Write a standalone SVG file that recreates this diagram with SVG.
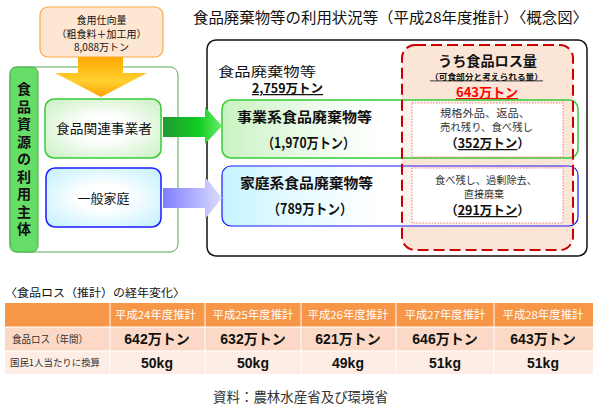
<svg xmlns="http://www.w3.org/2000/svg" width="600" height="412" viewBox="0 0 600 412">
<defs>
<linearGradient id="gDown" x1="0" y1="0" x2="0" y2="1">
<stop offset="0" stop-color="#ffa800"/><stop offset="0.6" stop-color="#ffd030"/><stop offset="1" stop-color="#ffa000"/>
</linearGradient>
<linearGradient id="gGreenArrow" x1="0" y1="0" x2="1" y2="0">
<stop offset="0" stop-color="#229933"/><stop offset="0.6" stop-color="#11cc22"/><stop offset="1" stop-color="#66ee66"/>
</linearGradient>
<linearGradient id="gBlueArrow" x1="0" y1="0" x2="1" y2="0">
<stop offset="0" stop-color="#7f7fff"/><stop offset="1" stop-color="#dcdcff"/>
</linearGradient>
<radialGradient id="gGreenBox" cx="0.5" cy="0.5" r="0.7">
<stop offset="0.3" stop-color="#ffffff"/><stop offset="1" stop-color="#c8f0c0"/>
</radialGradient>
<radialGradient id="gBlueBox" cx="0.5" cy="0.5" r="0.7">
<stop offset="0.3" stop-color="#ffffff"/><stop offset="1" stop-color="#bff0ff"/>
</radialGradient>
<linearGradient id="gBiz" x1="0" y1="0" x2="1" y2="0">
<stop offset="0" stop-color="#c8f2c0" stop-opacity="1"/><stop offset="0.45" stop-color="#ffffff" stop-opacity="0.6"/><stop offset="1" stop-color="#ffffff" stop-opacity="0"/>
</linearGradient>
<linearGradient id="gHome" x1="0" y1="0" x2="1" y2="0">
<stop offset="0" stop-color="#c4f4ff" stop-opacity="1"/><stop offset="0.45" stop-color="#ffffff" stop-opacity="0.6"/><stop offset="1" stop-color="#ffffff" stop-opacity="0"/>
</linearGradient>
</defs>
<style>
text{font-family:"Noto Sans CJK JP","Liberation Sans",sans-serif;fill:#111}
.b{font-weight:bold}
.c{text-anchor:middle}
.gray{fill:#333}
.inner{fill:#fff;stroke:#f08080;stroke-width:1;stroke-dasharray:1.5,1.5}
.num{font-family:"Liberation Sans","Noto Sans CJK JP",sans-serif;font-weight:bold;font-size:14px;text-anchor:middle}
.hdr{fill:#fff;font-size:11px;text-anchor:middle}
</style>
<rect width="600" height="412" fill="#fff"/>

<text x="390.5" y="23" font-size="15" class="c" textLength="395" lengthAdjust="spacingAndGlyphs">食品廃棄物等の利用状況等（平成28年度推計）〈概念図〉</text>

<g id="frame-left">
<rect x="10" y="67" width="168" height="185" rx="8" fill="#fff" stroke="#55aa55" stroke-width="1"/>
</g>
<g id="node-supply">
<rect x="40" y="7" width="123" height="50" rx="8" fill="#fde6d2" stroke="#f8a848" stroke-width="1.2"/>
<text x="101.5" y="24" font-size="10" class="c">食用仕向量</text>
<text x="101.5" y="37.5" font-size="10" class="c">（粗食料＋加工用）</text>
<text x="101.5" y="51" font-size="10" class="c">8,088万トン</text>
</g>
<g id="label-bar">
<rect x="10" y="67" width="28" height="185" rx="6" fill="#66dd66" stroke="#44aa44" stroke-width="1"/>
<text x="24" y="82" font-size="14" class="b" writing-mode="vertical-rl" letter-spacing="3.5">食品資源の利用主体</text>
</g>
<g id="node-business-user">
<rect x="45" y="99" width="116" height="59" rx="9" fill="url(#gGreenBox)" stroke="#33cc33" stroke-width="1.5"/>
<text x="104" y="133" font-size="13" class="c" textLength="96" lengthAdjust="spacingAndGlyphs">食品関連事業者</text>
</g>
<g id="node-household-user">
<rect x="46" y="168" width="115" height="59" rx="9" fill="url(#gBlueBox)" stroke="#1a1aff" stroke-width="1.5"/>
<text x="103.5" y="203" font-size="13" class="c">一般家庭</text>
</g>

<g id="frame-right">
<rect x="207" y="40" width="380" height="216" rx="9" fill="#fff" stroke="#111" stroke-width="1.5"/>
<rect x="402" y="45" width="171" height="205" rx="13" fill="#fbe5d6"/>
<text x="218" y="76" font-size="13" textLength="98" lengthAdjust="spacingAndGlyphs">食品廃棄物等</text>
<text x="287.5" y="93" font-size="12.5" class="b c" text-decoration="underline">2,759万トン</text>
<text x="487.5" y="66" font-size="13.5" class="b c" textLength="99" lengthAdjust="spacingAndGlyphs">うち食品ロス量</text>
<text x="486.5" y="79.5" font-size="8.2" class="b c" text-decoration="underline" textLength="113" lengthAdjust="spacingAndGlyphs">（可食部分と考えられる量）</text>
<text x="487" y="97" font-size="13" class="b c" style="fill:#ff0000" text-decoration="underline">643万トン</text>
</g>

<g id="node-business">
<rect x="222" y="100" width="356" height="58" rx="9" fill="url(#gBiz)" stroke="#33cc33" stroke-width="1.5"/>
<text x="304.5" y="122" font-size="14" class="b c" textLength="135" lengthAdjust="spacingAndGlyphs">事業系食品廃棄物等</text>
<text x="308.5" y="148" font-size="14" class="b c" textLength="93" lengthAdjust="spacingAndGlyphs">（1,970万トン）</text>
</g>
<g id="node-household">
<rect x="222" y="166" width="356" height="60" rx="9" fill="url(#gHome)" stroke="#1a1aff" stroke-width="1.2"/>
<text x="306.5" y="188" font-size="14" class="b c" textLength="133" lengthAdjust="spacingAndGlyphs">家庭系食品廃棄物等</text>
<text x="310" y="214" font-size="14" class="b c" textLength="85" lengthAdjust="spacingAndGlyphs">（789万トン）</text>
</g>

<g id="node-loss">
<rect x="402" y="45" width="171" height="205" rx="13" fill="none" stroke="#cc0000" stroke-width="2" stroke-dasharray="11,5"/>
</g>
<g id="node-loss-business">
<rect x="412" y="103" width="151" height="54" class="inner"/>
<text x="485" y="117" font-size="10.5" class="c gray" textLength="90" lengthAdjust="spacingAndGlyphs">規格外品、返品、</text>
<text x="486.5" y="131" font-size="10.5" class="c gray" textLength="93" lengthAdjust="spacingAndGlyphs">売れ残り、食べ残し</text>
<text x="487.5" y="148" font-size="12.5" class="b c">（<tspan text-decoration="underline">352万トン</tspan>）</text>
</g>
<g id="node-loss-household">
<rect x="412" y="168" width="151" height="55" class="inner"/>
<text x="486" y="183.5" font-size="10.5" class="c gray" textLength="102" lengthAdjust="spacingAndGlyphs">食べ残し、過剰除去、</text>
<text x="484" y="197.5" font-size="10" class="c gray">直接廃棄</text>
<text x="487.5" y="215" font-size="12.5" class="b c">（<tspan text-decoration="underline">291万トン</tspan>）</text>
</g>

<g id="connectors">
<polygon points="78,57 123,57 123,73 147,73 101,97 55,73 78,73" fill="url(#gDown)"/>
<polygon points="163,117 205,117 205,107 222,126 205,144 205,137 163,137" fill="url(#gGreenArrow)"/>
<polygon points="163,188 205,188 205,177 222,198 205,219 205,208 163,208" fill="url(#gBlueArrow)"/>
</g>

<g id="table">
<text x="5" y="297" font-size="11.5" textLength="180" lengthAdjust="spacingAndGlyphs">〈食品ロス（推計）の経年変化〉</text>
<rect x="5" y="303" width="588" height="24" fill="#f79646"/>
<rect x="5" y="327" width="588" height="24" fill="#fcd9c6"/>
<rect x="5" y="351" width="588" height="23" fill="#fdede4"/>
<g stroke="#fff" stroke-width="1">
<line x1="5" y1="327" x2="593" y2="327"/>
<line x1="5" y1="351" x2="593" y2="351"/>
<line x1="110" y1="303" x2="110" y2="374"/>
<line x1="205" y1="303" x2="205" y2="374"/>
<line x1="301" y1="303" x2="301" y2="374"/>
<line x1="396" y1="303" x2="396" y2="374"/>
<line x1="494" y1="303" x2="494" y2="374"/>
</g>
<text x="155.5" y="319" class="hdr" textLength="81" lengthAdjust="spacingAndGlyphs">平成24年度推計</text>
<text x="253" y="319" class="hdr" textLength="81" lengthAdjust="spacingAndGlyphs">平成25年度推計</text>
<text x="348" y="319" class="hdr" textLength="81" lengthAdjust="spacingAndGlyphs">平成26年度推計</text>
<text x="445" y="319" class="hdr" textLength="81" lengthAdjust="spacingAndGlyphs">平成27年度推計</text>
<text x="543" y="319" class="hdr" textLength="81" lengthAdjust="spacingAndGlyphs">平成28年度推計</text>
<text x="12" y="343" font-size="10.5" class="gray" textLength="76" lengthAdjust="spacingAndGlyphs">食品ロス（年間）</text>
<text x="10" y="366" font-size="9.5" class="gray" textLength="90" lengthAdjust="spacingAndGlyphs">国民1人当たりに換算</text>
<text x="157" y="344" class="num">642万トン</text>
<text x="253" y="344" class="num">632万トン</text>
<text x="348" y="344" class="num">621万トン</text>
<text x="445" y="344" class="num">646万トン</text>
<text x="543" y="344" class="num">643万トン</text>
<text x="157" y="368" class="num">50kg</text>
<text x="253" y="368" class="num">50kg</text>
<text x="348" y="368" class="num">49kg</text>
<text x="445" y="368" class="num">51kg</text>
<text x="543" y="368" class="num">51kg</text>
</g>

<text x="300.5" y="402" font-size="13.5" class="c gray" textLength="175" lengthAdjust="spacingAndGlyphs">資料：農林水産省及び環境省</text>
</svg>
